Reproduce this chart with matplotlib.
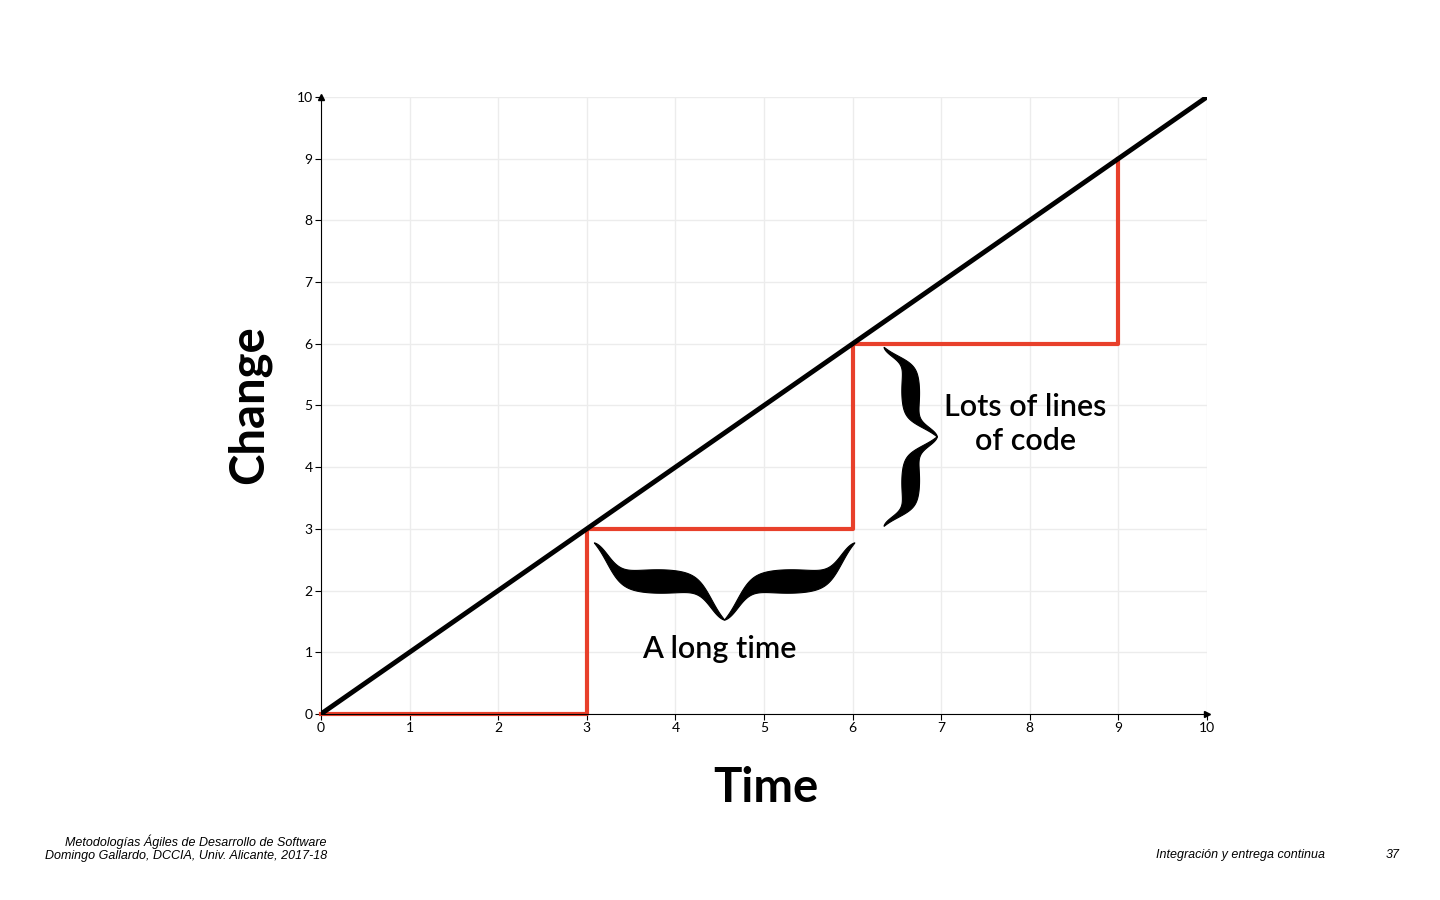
import numpy as np
import matplotlib
matplotlib.use('Agg')
import matplotlib.pyplot as plt

# datos
time_x = [0, 10]
change_y = [0, 10]
step_x = [0, 3, 3, 6, 6, 9, 9]
step_y = [0, 0, 3, 3, 6, 6, 9]
ticks = list(range(0, 11))

plt.rcParams['font.family'] = ['Lato', 'DejaVu Sans']


def brace_curve(n=200):
    t = np.linspace(0, 1, n)
    k = 18
    s = 0.5 * (1 / (1 + np.exp(-k * (t - 0.1))) + 1 / (1 + np.exp(-k * (t - 0.9))))
    s = (s - s[0]) / (s[-1] - s[0])
    w = np.sin(np.pi * t) ** 0.8
    return t, s, w


def hbrace(ax, x0, x1, ytop, depth, thick):
    t, s, w = brace_curve()
    xm = (x0 + x1) / 2
    for xa, xb in [(x0, xm), (x1, xm)]:
        x = xa + (xb - xa) * t
        y = ytop - depth * s
        ax.fill_between(x, y - thick * w / 2, y + thick * w / 2, color='black', lw=0.8, zorder=4)


def vbrace(ax, y0, y1, xleft, depth, thick):
    t, s, w = brace_curve()
    ym = (y0 + y1) / 2
    for ya, yb in [(y0, ym), (y1, ym)]:
        y = ya + (yb - ya) * t
        x = xleft + depth * s
        ax.fill_betweenx(y, x - thick * w / 2, x + thick * w / 2, color='black', lw=0.8, zorder=4)


fig = plt.figure(figsize=(14.4, 9), dpi=100)
ax = fig.add_axes([0.2229, 0.2067, 0.6153, 0.6856])
ax.set_xlim(0, 10)
ax.set_ylim(0, 10)
ax.set_xticks(ticks)
ax.set_yticks(ticks)
ax.tick_params(labelsize=10, length=4, direction='out', pad=2)
ax.grid(True, color='#ececec', lw=1)
ax.set_axisbelow(True)
for sp in ['top', 'right']:
    ax.spines[sp].set_visible(False)
ax.plot(1, 0, '>k', ms=4, transform=ax.transAxes, clip_on=False)
ax.plot(0, 1, '^k', ms=4, transform=ax.transAxes, clip_on=False)

ax.plot(time_x, change_y, color='black', lw=3.5, solid_capstyle='round', zorder=3)
ax.plot(step_x, step_y, color='#e8402b', lw=3, zorder=2, clip_on=False)

hbrace(ax, 3.08, 6.02, 2.78, 1.25, 0.38)
vbrace(ax, 5.95, 3.05, 6.35, 0.6, 0.2)

ax.text(4.5, 1.05, 'A long time', fontsize=22, fontweight='semibold', ha='center', va='center')
ax.text(7.95, 4.7, 'Lots of lines\nof code', fontsize=22, fontweight='semibold', ha='center', va='center',
        linespacing=1.3)

fig.text(0.532, 0.125, 'Time', fontsize=34, fontweight='bold', ha='center', va='center')
fig.text(0.173, 0.55, 'Change', fontsize=34, fontweight='bold', ha='center', va='center', rotation=90)

fig.text(0.227, 0.0575, 'Metodologías Ágiles de Desarrollo de Software\nDomingo Gallardo, DCCIA, Univ. Alicante, 2017-18',
         fontsize=9, style='italic', ha='right', va='center', family=['Liberation Sans', 'DejaVu Sans'])
fig.text(0.92, 0.05, 'Integración y entrega continua', fontsize=9, style='italic', ha='right', va='center',
         family=['Liberation Sans', 'DejaVu Sans'])
fig.text(0.972, 0.05, '37', fontsize=9, style='italic', ha='right', va='center',
         family=['Liberation Sans', 'DejaVu Sans'])

fig.savefig('out.png', dpi=100)
